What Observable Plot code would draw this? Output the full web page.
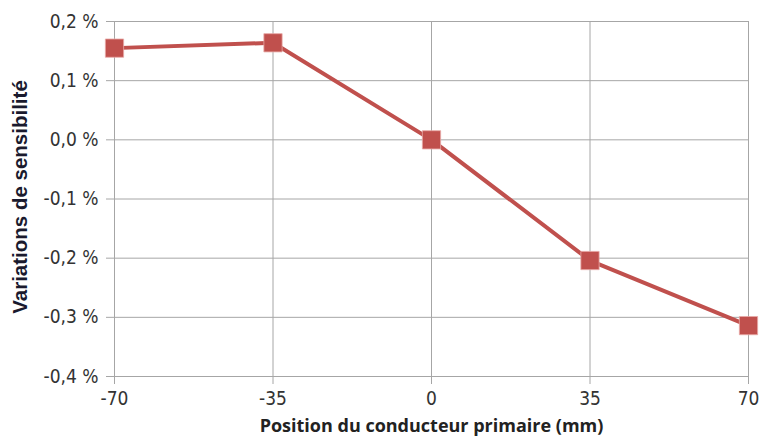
<!DOCTYPE html>
<html>
<head>
<meta charset="utf-8">
<script src="https://cdn.jsdelivr.net/npm/d3@7"></script>
<script src="https://cdn.jsdelivr.net/npm/@observablehq/plot@0.6"></script>
<style>
  html, body { margin: 0; padding: 0; background: #fff; }
  #chart { width: 762px; height: 437px; }
</style>
</head>
<body>
<div id="chart"></div>
<script>
const positions = [-70, -35, 0, 35, 70];
const variations = [0.155, 0.164, 0.0, -0.204, -0.314];
const xTicks = [-70, -35, 0, 35, 70];
const yTicks = [-0.4, -0.3, -0.2, -0.1, 0.0, 0.1, 0.2];
const xTitle = "Position du conducteur primaire (mm)";
const yTitle = "Variations de sensibilité";

const data = positions.map((p, i) => ({x: p, y: variations[i]}));
const fmtY = d => (Math.abs(d) < 1e-9 ? 0 : d).toFixed(1).replace(".", ",") + " %";

const tickFont = "'Liberation Sans Narrow', 'DejaVu Sans Condensed', 'Open Sans', sans-serif";

const chart = Plot.plot({
  width: 762,
  height: 437,
  marginLeft: 114,
  marginRight: 14,
  marginTop: 21,
  marginBottom: 61,
  style: {fontFamily: tickFont, fontSize: "19px", color: "#333", background: "#fff"},
  x: {domain: [-70, 70]},
  y: {domain: [-0.4, 0.2]},
  marks: [
    Plot.gridX(xTicks, {stroke: "#a6a6a6", strokeOpacity: 1, strokeWidth: 1}),
    Plot.gridY(yTicks, {stroke: "#a6a6a6", strokeOpacity: 1, strokeWidth: 1}),
    Plot.ruleX([-70], {stroke: "#a6a6a6"}),
    Plot.ruleY([-0.4], {stroke: "#a6a6a6"}),
    Plot.axisX(xTicks, {tickSize: 8, stroke: "#a6a6a6", tickPadding: 7, tickFormat: d => String(d), label: null, fill: "#333", fontSize: 19}),
    Plot.axisY(yTicks, {tickSize: 8, stroke: "#a6a6a6", tickPadding: 8, tickFormat: fmtY, label: null, fill: "#333", fontSize: 19}),
    Plot.line(data, {x: "x", y: "y", stroke: "#c0504d", strokeWidth: 4}),
    Plot.dot(data, {x: "x", y: "y", symbol: "square", r: 10.3, fill: "#c0504d", stroke: "#e8a9a7", strokeWidth: 0.8}),
    Plot.text([xTitle], {frameAnchor: "bottom", dy: 50, fontWeight: "bold", fontSize: 18, fill: "#222", fontFamily: "'Open Sans', sans-serif", lineAnchor: "middle"}),
    Plot.text([yTitle], {frameAnchor: "left", dx: -94, dy: -2, rotate: -90, fontWeight: "bold", fontSize: 20.5, fill: "#1a1a2e", fontFamily: "'Liberation Sans', Arial, sans-serif", textAnchor: "middle"})
  ]
});
document.getElementById("chart").appendChild(chart);
</script>
</body>
</html>
